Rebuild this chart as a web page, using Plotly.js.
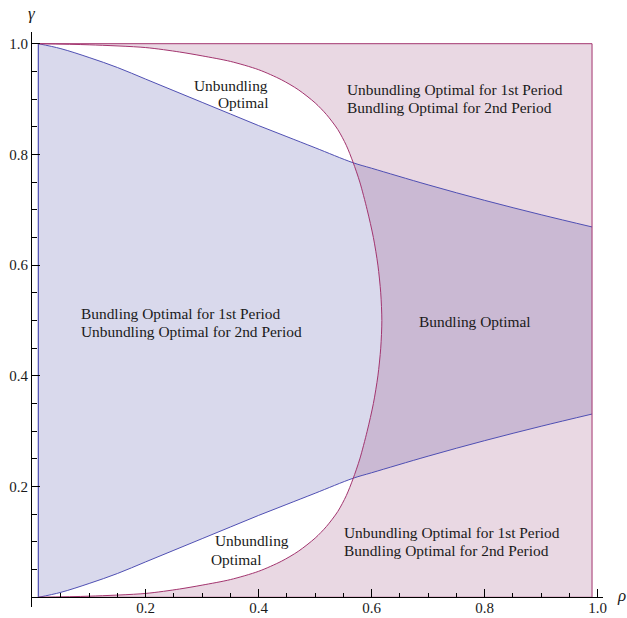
<!DOCTYPE html>
<html>
<head>
<meta charset="utf-8">
<script src="https://cdn.plot.ly/plotly-3.0.1.min.js"></script>
<style>html,body{margin:0;padding:0;background:#fff;}</style>
</head>
<body>
<div id="chart" style="width:627px;height:618px;"></div>
<script>
// Blue boundaries (upper and lower) sampled over rho
const rhoGrid    = [0.01, 0.05, 0.10, 0.15, 0.20, 0.25, 0.30, 0.35, 0.40, 0.45, 0.50, 0.567, 0.60, 0.70, 0.80, 0.90, 0.99];
const lowerGamma = [0.000, 0.009, 0.025, 0.043, 0.064, 0.085, 0.106, 0.127, 0.148, 0.168, 0.188, 0.215, 0.225, 0.255, 0.283, 0.309, 0.331];
const upperGamma = [1.000, 0.991, 0.975, 0.957, 0.936, 0.915, 0.894, 0.873, 0.852, 0.832, 0.812, 0.785, 0.775, 0.745, 0.717, 0.691, 0.669];

// Red boundary (from top to bottom)
const redRho   = [0.01, 0.10, 0.20, 0.26, 0.30, 0.35, 0.40, 0.44, 0.47, 0.50, 0.52, 0.54, 0.555, 0.567, 0.579, 0.592, 0.603, 0.611, 0.616, 0.618,
                  0.616, 0.611, 0.603, 0.592, 0.579, 0.567, 0.555, 0.54, 0.52, 0.50, 0.47, 0.44, 0.40, 0.35, 0.30, 0.26, 0.20, 0.10, 0.01];
const redGamma = [1.000, 0.998, 0.993, 0.985, 0.978, 0.968, 0.953, 0.935, 0.917, 0.893, 0.872, 0.845, 0.8165, 0.786, 0.750, 0.700, 0.650, 0.600, 0.550, 0.500,
                  0.450, 0.400, 0.350, 0.300, 0.250, 0.214, 0.1835, 0.155, 0.128, 0.107, 0.083, 0.065, 0.047, 0.032, 0.022, 0.015, 0.007, 0.002, 0.000];

const rhoMin = 0.01, rhoMax = 0.99, gMin = 0, gMax = 1;

const xTickVals = [0.2, 0.4, 0.6, 0.8, 1.0];
const xTickText = ["0.2", "0.4", "0.6", "0.8", "1.0"];
const yTickVals = [0.2, 0.4, 0.6, 0.8, 1.0];
const yTickText = ["0.2", "0.4", "0.6", "0.8", "1.0"];

const regionLabels = [
  {text: "Unbundling", x: 0.420, y: 0.9254, xanchor: "right"},
  {text: "Optimal", x: 0.420, y: 0.8929, xanchor: "right"},
  {text: "Unbundling Optimal for 1st Period", x: 0.5527, y: 0.9177, xanchor: "left"},
  {text: "Bundling Optimal for 2nd Period", x: 0.5527, y: 0.8851, xanchor: "left"},
  {text: "Bundling Optimal", x: 0.7828, y: 0.4978, xanchor: "center"},
  {text: "Bundling Optimal for 1st Period", x: 0.0819, y: 0.5130, xanchor: "left"},
  {text: "Unbundling Optimal for 2nd Period", x: 0.0819, y: 0.4798, xanchor: "left"},
  {text: "Unbundling", x: 0.319, y: 0.1022, xanchor: "left"},
  {text: "Optimal", x: 0.312, y: 0.0674, xanchor: "left"},
  {text: "Unbundling Optimal for 1st Period", x: 0.5469, y: 0.1167, xanchor: "left"},
  {text: "Bundling Optimal for 2nd Period", x: 0.5469, y: 0.0842, xanchor: "left"}
];

const blueLine = "#4f4fb3";
const redLine = "#a3356f";
const blueFill = "rgba(65,65,160,0.2)";
const pinkFill = "rgba(145,60,115,0.2)";

// Pink region straight edges (bottom, right, top)
const edgeX = [redRho[redRho.length - 1], rhoMax, rhoMax, redRho[0]];
const edgeY = [gMin, gMin, gMax, gMax];

const noLine = {width: 0, shape: "spline", smoothing: 1};

const traces = [
  // fills
  {x: rhoGrid, y: upperGamma, mode: "lines", line: noLine, hoverinfo: "skip"},
  {x: rhoGrid, y: lowerGamma, mode: "lines", line: noLine, fill: "tonexty", fillcolor: blueFill, hoverinfo: "skip"},
  {x: [rhoMax, rhoMax], y: [gMax, gMin], mode: "lines", line: {width: 0}, hoverinfo: "skip"},
  {x: redRho, y: redGamma, mode: "lines", line: {width: 0, shape: "spline", smoothing: 0.8}, fill: "tonextx", fillcolor: pinkFill, hoverinfo: "skip"},
  // boundary lines
  {x: rhoGrid, y: upperGamma, mode: "lines", line: {color: blueLine, width: 1, shape: "spline", smoothing: 1}},
  {x: rhoGrid, y: lowerGamma, mode: "lines", line: {color: blueLine, width: 1, shape: "spline", smoothing: 1}},
  {x: [rhoMin, rhoMin], y: [lowerGamma[0], upperGamma[0]], mode: "lines", line: {color: blueLine, width: 1.2}},
  {x: edgeX, y: edgeY, mode: "lines", line: {color: redLine, width: 1}},
  {x: redRho, y: redGamma, mode: "lines", line: {color: redLine, width: 1, shape: "spline", smoothing: 0.8}}
];

const serif = "Liberation Serif, Times New Roman, serif";

const annotations = regionLabels.map(l => ({
  text: l.text, x: l.x, y: l.y, xref: "x", yref: "y", xanchor: l.xanchor, yanchor: "middle",
  showarrow: false, font: {family: serif, size: 15.4, color: "#1a1a1a"}
}));
annotations.push({text: "<i>γ</i>", xref: "paper", yref: "paper", x: 0.0, y: 1.033, xanchor: "center", yanchor: "middle",
  showarrow: false, font: {family: serif, size: 17, color: "#1a1a1a"}});
annotations.push({text: "<i>ρ</i>", xref: "paper", yref: "paper", x: 1.0327, y: 0.0195, xanchor: "center", yanchor: "middle",
  showarrow: false, font: {family: serif, size: 17, color: "#1a1a1a"}});

const axisCommon = {
  showgrid: false, zeroline: false, showline: true, linecolor: "#000", linewidth: 1,
  ticks: "inside", ticklen: 8, tickwidth: 1, tickcolor: "#000",
  tickfont: {family: serif, size: 15, color: "#1a1a1a"},
  tickmode: "array",
  minor: {ticks: "inside", ticklen: 4.5, tickwidth: 1, tickcolor: "#000", tickmode: "linear", tick0: 0, dtick: 0.05, showgrid: false}
};

const layout = {
  width: 627, height: 618,
  margin: {l: 32, r: 24, t: 32, b: 11, pad: 0},
  paper_bgcolor: "#fff", plot_bgcolor: "#fff",
  showlegend: false,
  xaxis: Object.assign({}, axisCommon, {range: [-0.0012, 1.0094], tickvals: xTickVals, ticktext: xTickText,
    anchor: "free", position: 0.01687, side: "bottom", ticklabelstandoff: -3}),
  yaxis: Object.assign({}, axisCommon, {range: [-0.01752, 1.02113], tickvals: yTickVals, ticktext: yTickText}),
  annotations: annotations
};

Plotly.newPlot("chart", traces, layout, {displayModeBar: false, staticPlot: true});
</script>
</body>
</html>
